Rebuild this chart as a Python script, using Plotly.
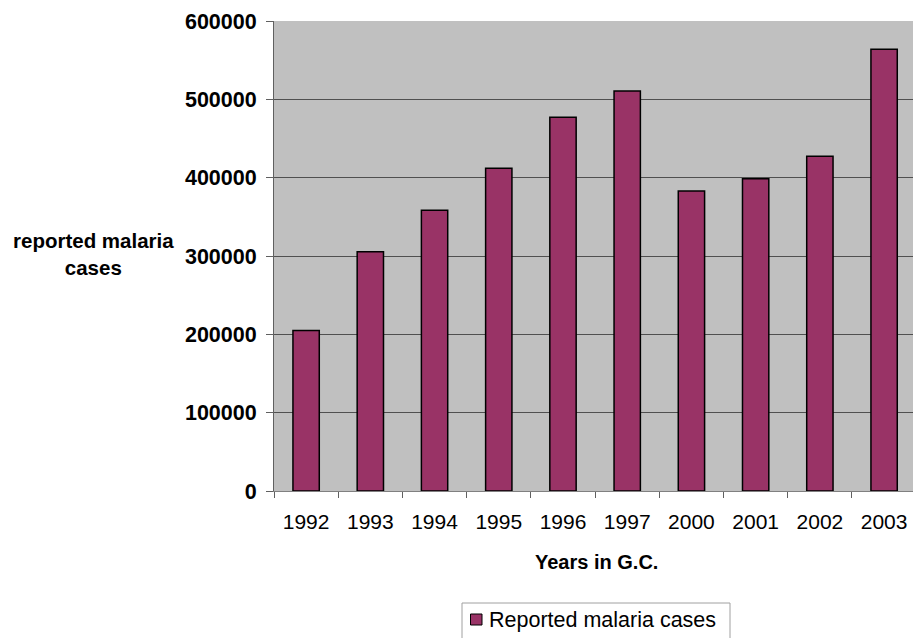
import plotly.graph_objects as go

# Reported malaria cases per year
years = ["1992", "1993", "1994", "1995", "1996", "1997", "2000", "2001", "2002", "2003"]
cases = [205000, 305500, 358500, 412000, 477000, 510500, 383000, 398500, 427500, 564000]
y_ticks = [0, 100000, 200000, 300000, 400000, 500000, 600000]
series_name = "Reported malaria cases"

FONT = "Liberation Sans, Arial, sans-serif"
BAR_COLOR = "#993366"

W, H = 913, 638
L, R, T, B = 274, 0, 21, 147
PW, PH = W - L - R, H - T - B


def px_x(x):
    """Pixel column -> paper x."""
    return (x - L) / PW


def px_y(y):
    """Pixel row -> paper y."""
    return (H - B - y) / PH


fig = go.Figure()
fig.add_trace(go.Bar(
    x=years,
    y=cases,
    name=series_name,
    width=0.41,
    marker=dict(color=BAR_COLOR, line=dict(color="#000000", width=1.5)),
    showlegend=False,
))

fig.update_layout(
    width=W,
    height=H,
    margin=dict(l=L, r=R, t=T, b=B),
    paper_bgcolor="#ffffff",
    plot_bgcolor="#c0c0c0",
    font=dict(family=FONT, color="#000000"),
    showlegend=False,
)

fig.update_xaxes(
    type="category",
    range=[-0.5, 9.45],
    tickson="boundaries",
    ticks="outside",
    ticklen=6,
    tickcolor="#606060",
    ticklabelstandoff=12,
    showline=True,
    linecolor="#808080",
    linewidth=1,
    showgrid=False,
    tickfont=dict(family=FONT, size=21, color="#000000"),
)

fig.update_yaxes(
    range=[0, 600000],
    tickvals=y_ticks,
    ticktext=[str(v) for v in y_ticks],
    ticks="outside",
    ticklen=7,
    tickcolor="#606060",
    ticklabelstandoff=5,
    showline=True,
    linecolor="#606060",
    linewidth=1,
    showgrid=True,
    gridcolor="#505050",
    gridwidth=1,
    zeroline=False,
    tickfont=dict(family=FONT, size=21.5, color="#000000", weight="bold"),
)

# Axis titles placed as free text
fig.add_annotation(
    text="reported malaria<br>cases",
    xref="paper", yref="paper",
    x=px_x(93), y=px_y(254),
    xanchor="center", yanchor="middle",
    showarrow=False,
    align="center",
    font=dict(family=FONT, size=20.5, color="#000000", weight="bold"),
)
fig.add_annotation(
    text="Years in G.C.",
    xref="paper", yref="paper",
    x=px_x(596), y=px_y(562),
    xanchor="center", yanchor="middle",
    showarrow=False,
    font=dict(family=FONT, size=20, color="#000000", weight="bold"),
)

# Legend box below the chart: frame, colour swatch and series name
fig.add_shape(
    type="rect", xref="paper", yref="paper",
    x0=px_x(462), x1=px_x(730), y0=px_y(603), y1=px_y(645),
    line=dict(color="#a0a0a0", width=1), fillcolor="#ffffff", layer="above",
)
fig.add_shape(
    type="rect", xref="paper", yref="paper",
    x0=px_x(470.5), x1=px_x(482), y0=px_y(614), y1=px_y(625),
    line=dict(color="#000000", width=1), fillcolor=BAR_COLOR, layer="above",
)
fig.add_annotation(
    text=series_name,
    xref="paper", yref="paper",
    x=px_x(487), y=px_y(620),
    xanchor="left", yanchor="middle",
    showarrow=False,
    font=dict(family=FONT, size=21.5, color="#000000"),
)

fig.write_html("out.html")
